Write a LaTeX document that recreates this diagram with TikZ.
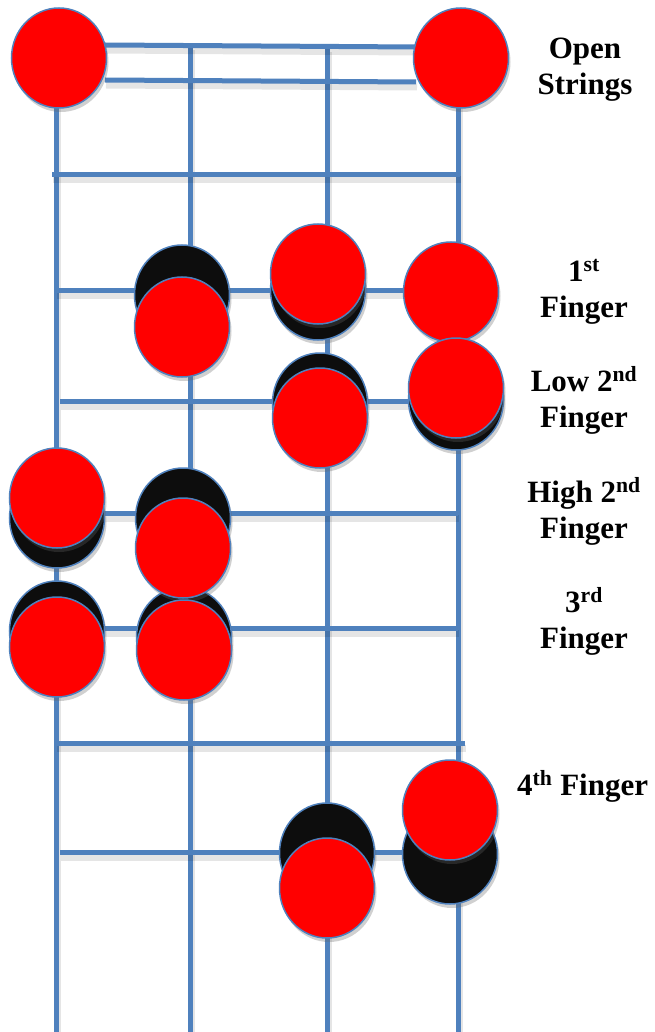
\documentclass[tikz,border=0pt]{standalone}
\usepackage{fontspec}
\setmainfont{Liberation Serif}
\usetikzlibrary{shapes.geometric,shadows}
\definecolor{gblue}{HTML}{4F81BD}
\definecolor{dotred}{HTML}{FF0000}
\definecolor{dotblack}{HTML}{0D0D0D}
\tikzset{
  x=1pt,y=1pt,
  wire/.style={draw=gblue, line width=5pt,
    preaction={draw=black, opacity=0.10, line width=7pt, transform canvas={shift={(1pt,-5pt)}}}},
  dot/.style={ellipse, minimum width=95pt, minimum height=100pt, inner sep=0pt,
    draw=gblue, line width=1.5pt,
    drop shadow={shadow xshift=2pt, shadow yshift=-4pt, opacity=0.3, fill=black!60}},
  reddot/.style={dot, fill=dotred},
  blackdot/.style={dot, fill=dotblack},
  lbl/.style={font=\fontsize{31}{36}\selectfont\bfseries, align=center, inner sep=0pt}
}
\begin{document}
\begin{tikzpicture}
\useasboundingbox (0,0) rectangle (654,-1032);
\fill[white] (0,0) rectangle (654,-1032);
% coordinates for strings
\coordinate (s1t) at (56,-58);  \coordinate (s1b) at (56,-1032);
\coordinate (s2t) at (190,-45); \coordinate (s2b) at (190,-1032);
\coordinate (s3t) at (327,-47); \coordinate (s3b) at (327,-1032);
\coordinate (s4t) at (458,-58); \coordinate (s4b) at (458,-1032);
% fret ends
\coordinate (a0) at (105,-45);  \coordinate (b0) at (416,-47);
\coordinate (a1) at (105,-80);  \coordinate (b1) at (416,-82);
\coordinate (a2) at (52,-175);  \coordinate (b2) at (460,-175);
\coordinate (a3) at (56,-290);  \coordinate (b3) at (458,-290);
\coordinate (a4) at (60,-401);  \coordinate (b4) at (458,-401);
\coordinate (a5) at (56,-513);  \coordinate (b5) at (458,-513);
\coordinate (a6) at (56,-628);  \coordinate (b6) at (458,-628);
\coordinate (a7) at (56,-743);  \coordinate (b7) at (465,-743);
\coordinate (a8) at (60,-852);  \coordinate (b8) at (458,-852);
% strings
\foreach \s in {1,2,3,4} \path[wire] (s\s t) -- (s\s b);
% frets
\foreach \f in {0,...,8} \path[wire] (a\f) -- (b\f);
% open strings
\node[reddot] (o1) at (59,-58) {};
\node[reddot] (o4) at (461,-58) {};
% black dots (behind)
\node[blackdot] (k12) at (182,-295) {};
\node[blackdot] (k13) at (318,-290) {};
\node[blackdot] (k23) at (320,-403) {};
\node[blackdot] (k24) at (456,-400) {};
\node[blackdot] (k31) at (57,-518) {};
\node[blackdot] (k32) at (183,-518) {};
\node[blackdot] (k41) at (57,-631) {};
\node[blackdot] (k42) at (184,-637) {};
\node[blackdot] (k53) at (327,-853) {};
\node[blackdot] (k54) at (450,-854) {};
% red dots
\node[reddot] (r12) at (182,-327) {};
\node[reddot] (r13) at (318,-274) {};
\node[reddot] (r14) at (451,-292) {};
\node[reddot] (r23) at (320,-418) {};
\node[reddot] (r24) at (456,-388) {};
\node[reddot] (r31) at (57,-498) {};
\node[reddot] (r32) at (183,-548) {};
\node[reddot] (r41) at (57,-647) {};
\node[reddot] (r42) at (184,-650) {};
\node[reddot] (r53) at (327,-888) {};
\node[reddot] (r54) at (450,-810) {};
% labels (base = baseline of last line)
\node[lbl, anchor=base] (l0) at (585,-95) {Open\\Strings};
\node[lbl, anchor=base] (l1) at (584,-317) {1\textsuperscript{st}\\Finger};
\node[lbl, anchor=base] (l2) at (584,-427) {Low 2\textsuperscript{nd}\\Finger};
\node[lbl, anchor=base] (l3) at (584,-538) {High 2\textsuperscript{nd}\\Finger};
\node[lbl, anchor=base] (l4) at (584,-648) {3\textsuperscript{rd}\\Finger};
\node[lbl, anchor=base west] (l5) at (517,-795) {4\textsuperscript{th} Finger};
\end{tikzpicture}
\end{document}
